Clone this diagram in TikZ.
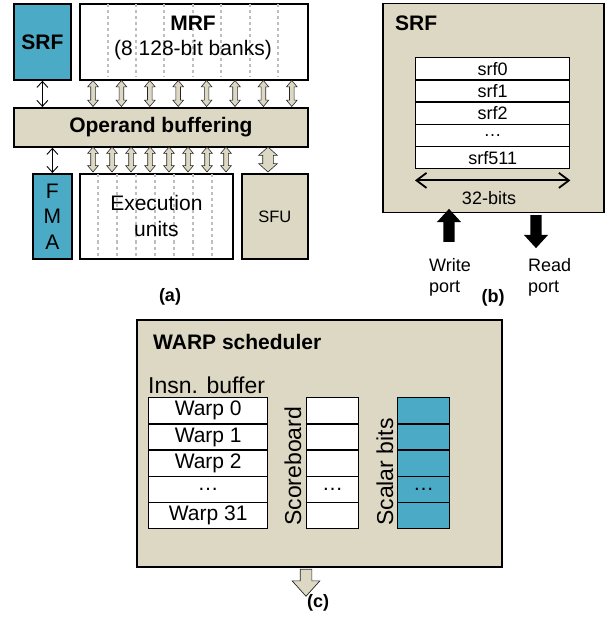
\documentclass[tikz,border=0pt]{standalone}
\usepackage{fontspec}
\setmainfont{Liberation Sans}
\usetikzlibrary{shapes.arrows,arrows.meta,calc}
\definecolor{tealfill}{RGB}{75,170,197}
\definecolor{beigefill}{RGB}{221,216,195}
\definecolor{dashgray}{RGB}{190,190,190}

\begin{document}
\begin{tikzpicture}[x=1pt,y=1pt,yscale=-1,xscale=1,
  box/.style={draw, line width=1.8pt, anchor=north west, inner sep=0pt},
  cell/.style={draw, line width=1.4pt, fill=white, inner sep=0pt, anchor=north west},
  lanearrow/.style={double arrow, draw=black!85, line width=0.6pt, fill=beigefill, inner xsep=0pt, inner ysep=2pt, double arrow head extend=3pt, double arrow tip angle=80, rotate=90},
  portarrow/.style={single arrow, fill=black, inner xsep=0pt, inner ysep=5.5pt, single arrow head extend=6.5pt, single arrow tip angle=85},
  bankline/.style={dashgray, line width=2pt, dash pattern=on 3pt off 3pt},
  thinarrow/.style={{Straight Barb[length=6pt,width=11pt]}-{Straight Barb[length=6pt,width=11pt]}, line width=0.9pt},
  txt/.style={font=\fontsize{21}{25.5}\selectfont},
  txtb/.style={font=\fontsize{21}{25}\selectfont\bfseries},
  small/.style={font=\fontsize{18}{21}\selectfont},
  caption/.style={font=\fontsize{18}{21}\selectfont\bfseries}]
\useasboundingbox (0,0) rectangle (610,617);

%%%%%%%%%%%%%%%% (a) register file and lanes
%Shape: SRF
\node[box, fill=tealfill, minimum width=57, minimum height=76, txtb] (srfa) at (13,3) {SRF};
%Shape: MRF with banks
\node[box, fill=white, minimum width=228, minimum height=76] (mrf) at (79,3) {};
\foreach \i in {0,...,6}
  \draw[bankline] (107.5+28.4*\i,4.5) -- (107.5+28.4*\i,77.5);
% Text Node
\node[txtb] (mrft) at (193,23) {MRF};
\node[txt] (mrfs) at (193,50) {(8 128-bit banks)};
%Shape: Operand buffering
\node[box, fill=beigefill, minimum width=294, minimum height=39, txtb] (opb) at (13,107) {Operand buffering};
%Shape: FMA
\node[box, fill=tealfill, minimum width=39, minimum height=85, txt, align=center] (fma) at (32,173) {F\\M\\A};
%Shape: Execution units with lanes
\node[box, fill=white, minimum width=153, minimum height=85] (exu) at (79,173) {};
\foreach \i in {0,...,6}
  \draw[bankline] (98+19*\i,174.5) -- (98+19*\i,256.5);
\node[txt, align=center, font=\fontsize{21}{26}\selectfont] (exut) at (exu.center) {Execution\\units};
%Shape: SFU
\node[box, fill=beigefill, minimum width=66, minimum height=85, font=\fontsize{16.5}{20}\selectfont] (sfu) at (241,173) {SFU};

%Lanes MRF <-> operand buffering
\foreach \i in {0,...,7}
  \node[lanearrow, minimum height=26] (ma\i) at (93+28.4*\i,93.5) {};
%Lanes operand buffering <-> execution
\foreach \i in {0,...,7}
  \node[lanearrow, minimum height=25] (ea\i) at (93+19*\i,159.5) {};
\node[lanearrow, inner ysep=5pt, double arrow head extend=4pt, double arrow tip angle=96, minimum height=25] (sfa) at (268,159.5) {};
%Straight Lines
\draw[thinarrow] (srfa.south) -- (srfa.south |- opb.north);
\draw[thinarrow] (fma.north) -- (fma.north |- opb.south);
% Text Node
\node[caption] (capa) at (170,297) {(a)};

%%%%%%%%%%%%%%%% (b) scalar register file
\node[box, line width=1.5pt, fill=beigefill, minimum width=221, minimum height=209] (srfb) at (382,3) {};
\node[txtb, anchor=west, inner sep=0pt] (srfbt) at (395,23) {SRF};
\foreach \t [count=\i from 0] in {srf0,srf1,srf2,…,srf511}
  \node[cell, small, minimum width=154, minimum height=22.2] (r\i) at (415,57+22.2*\i) {\t};
\draw[{Straight Barb[length=10pt,width=15pt]}-{Straight Barb[length=10pt,width=15pt]}, line width=1.8pt]
  ($(r4.south west)+(0,11)$) -- ($(r4.south east)+(0,11)$);
\node[small] (bits) at (489,198) {32-bits};
%Shape: ports
\node[portarrow, rotate=90, minimum height=33] (wp) at (449,228.5) {};
\node[portarrow, rotate=-90, minimum height=33] (rp) at (536,228.5) {};
\node[small, anchor=base west, inner sep=0pt] (wpa) at (429,271) {Write};
\node[small, anchor=base west, inner sep=0pt] (wpb) at (429,292) {port};
\node[small, anchor=base west, inner sep=0pt] (rpa) at (528,271) {Read};
\node[small, anchor=base west, inner sep=0pt] (rpb) at (528,292) {port};
% Text Node
\node[caption] (capb) at (493,298) {(b)};

%%%%%%%%%%%%%%%% (c) warp scheduler
\node[box, line width=1.5pt, fill=beigefill, minimum width=365, minimum height=247] (warp) at (136,319) {};
\node[txtb, anchor=west, inner sep=0pt] (warpt) at (153,342) {WARP scheduler};
\node[anchor=base west, inner sep=0pt, font=\fontsize{23}{27}\selectfont] (insn) at (148,393) {Insn. buffer};
\foreach \t [count=\i from 0] in {Warp 0,Warp 1,Warp 2,…,Warp 31}
  \node[cell, txt, minimum width=119, minimum height=26.2] (w\i) at (148,397+26.2*\i) {\t};
\foreach \t [count=\i from 0] in {,,,…,}
  \node[cell, txt, minimum width=52, minimum height=26.2] (sb\i) at (306,397+26.2*\i) {\t};
\foreach \t [count=\i from 0] in {,,,…,}
  \node[cell, txt, fill=tealfill, minimum width=52, minimum height=26.2] (sc\i) at (397,397+26.2*\i) {\t};
\node[rotate=90, anchor=west, inner sep=0pt, font=\fontsize{23}{27}\selectfont] (sbl) at (293,526) {Scoreboard};
\node[rotate=90, anchor=west, inner sep=0pt, font=\fontsize{23}{27}\selectfont] (scl) at (385,526) {Scalar bits};
%Shape: issue arrow
\node[single arrow, draw=black!85, line width=0.7pt, fill=beigefill, inner xsep=0pt, inner ysep=5.5pt, single arrow head extend=8pt, single arrow tip angle=84, rotate=-90, minimum height=27] (issue) at (306,579.5) {};
% Text Node
\node[caption] (capc) at (318,603) {(c)};

\end{tikzpicture}
\end{document}
